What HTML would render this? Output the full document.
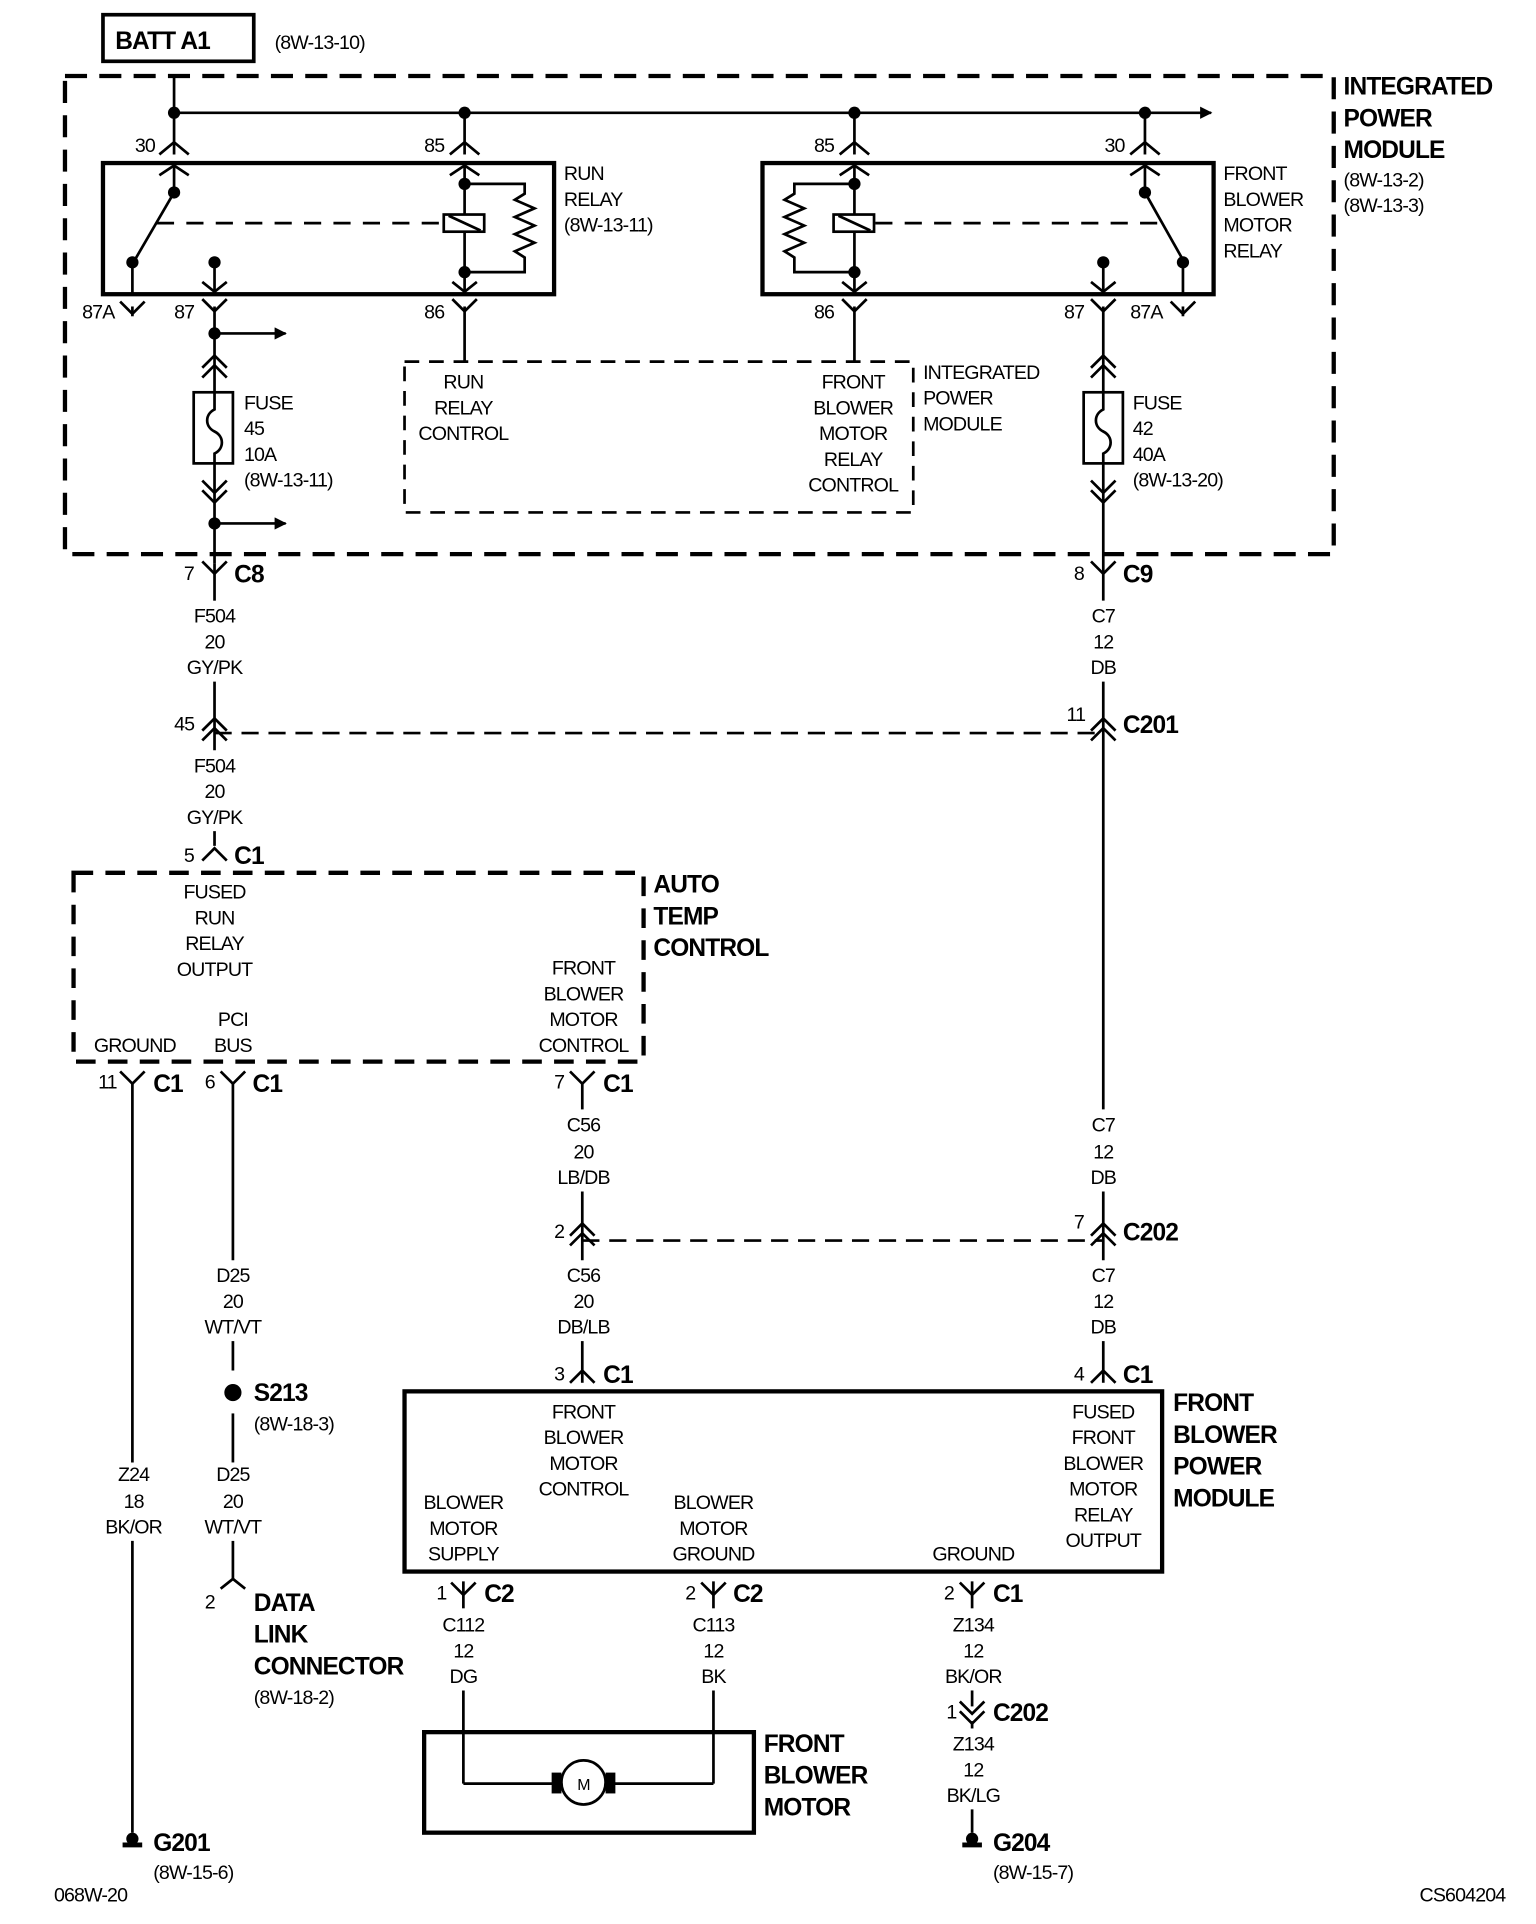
<!DOCTYPE html>
<html><head><meta charset="utf-8"><style>
html,body{margin:0;padding:0;background:#fff}
svg{display:block}
text{font-family:"Liberation Sans",Arial,sans-serif;fill:#000;font-size:16px;letter-spacing:-0.7px}
.b{font-weight:bold;font-size:20px}
.m{text-anchor:middle}
</style></head><body>
<svg width="1536" height="1924" viewBox="0 0 1253 1569.5" xmlns="http://www.w3.org/2000/svg">
<defs>
<marker id="ar" markerWidth="10" markerHeight="10" refX="9" refY="5" orient="auto" markerUnits="userSpaceOnUse"><path d="M0,0 L10,5 L0,10z" fill="#000"/></marker>
</defs>
<g stroke="#000" fill="none" stroke-width="2.2">
<rect x="84" y="12" width="123" height="38" stroke-width="3"/>
<rect x="53" y="62" width="1035" height="390" stroke-width="3.5" stroke-dasharray="18,10"/>
<line x1="142" y1="62" x2="142" y2="126"/>
<line x1="142" y1="92" x2="988" y2="92" marker-end="url(#ar)"/>
<line x1="379" y1="92" x2="379" y2="126"/>
<line x1="697" y1="92" x2="697" y2="126"/>
<line x1="934" y1="92" x2="934" y2="126"/>
<rect x="84" y="133" width="368" height="107" stroke-width="3.5"/>
<rect x="622" y="133" width="368" height="107" stroke-width="3.5"/>
<line x1="142" y1="133" x2="142" y2="157"/>
<line x1="142" y1="157" x2="110" y2="212"/>
<line x1="108" y1="214" x2="108" y2="240"/>
<line x1="175" y1="214" x2="175" y2="240"/>
<line x1="128" y1="182" x2="362" y2="182" stroke-dasharray="14,10"/>
<rect x="362" y="175" width="33" height="14"/>
<line x1="366" y1="176" x2="392" y2="188"/>
<line x1="379" y1="133" x2="379" y2="175"/>
<line x1="379" y1="189" x2="379" y2="240"/>
<polyline points="379,150 428,150 428,158 420,163 436,170 420,177 436,184 420,191 436,198 420,205 428,210 428,222 379,222"/>
<line x1="934" y1="133" x2="934" y2="157"/>
<line x1="934" y1="157" x2="965" y2="212"/>
<line x1="965" y1="214" x2="965" y2="240"/>
<line x1="900" y1="214" x2="900" y2="240"/>
<line x1="714" y1="182" x2="948" y2="182" stroke-dasharray="14,10"/>
<rect x="680" y="175" width="33" height="14"/>
<line x1="684" y1="176" x2="710" y2="188"/>
<line x1="697" y1="133" x2="697" y2="175"/>
<line x1="697" y1="189" x2="697" y2="240"/>
<polyline points="697,150 648,150 648,158 640,163 656,170 640,177 656,184 640,191 656,198 640,205 648,210 648,222 697,222"/>
<line x1="175" y1="250" x2="175" y2="460"/>
<line x1="175" y1="272" x2="233" y2="272" marker-end="url(#ar)"/>
<line x1="175" y1="427" x2="233" y2="427" marker-end="url(#ar)"/>
<rect x="158" y="320" width="32" height="58" fill="#fff"/>
<path d="M175,320 v14 c-8,4 -8,14 0,18 c8,4 8,14 0,18 v8"/>
<line x1="108" y1="250" x2="108" y2="258"/>
<line x1="379" y1="250" x2="379" y2="295"/>
<line x1="697" y1="250" x2="697" y2="295"/>
<line x1="900" y1="250" x2="900" y2="490"/>
<rect x="884" y="320" width="32" height="58" fill="#fff"/>
<path d="M900,320 v14 c-8,4 -8,14 0,18 c8,4 8,14 0,18 v8"/>
<line x1="965" y1="250" x2="965" y2="258"/>
<rect x="330" y="295" width="415" height="123" stroke-dasharray="12,8"/>
<line x1="175" y1="460" x2="175" y2="490"/>
<line x1="175" y1="556" x2="175" y2="612"/>
<line x1="175" y1="678" x2="175" y2="690"/>
<line x1="175" y1="598" x2="900" y2="598" stroke-dasharray="14,8"/>
<line x1="900" y1="556" x2="900" y2="905"/>
<line x1="900" y1="972" x2="900" y2="1028"/>
<line x1="900" y1="1094" x2="900" y2="1128"/>
<rect x="60" y="712" width="465" height="154" stroke-width="3.5" stroke-dasharray="16,10"/>
<line x1="108" y1="883" x2="108" y2="1193"/>
<line x1="108" y1="1257" x2="108" y2="1495"/>
<line x1="190" y1="883" x2="190" y2="1028"/>
<line x1="190" y1="1094" x2="190" y2="1118"/>
<line x1="190" y1="1153" x2="190" y2="1193"/>
<line x1="190" y1="1257" x2="190" y2="1288"/>
<line x1="475" y1="883" x2="475" y2="905"/>
<line x1="475" y1="972" x2="475" y2="1028"/>
<line x1="475" y1="1094" x2="475" y2="1128"/>
<line x1="475" y1="1012" x2="900" y2="1012" stroke-dasharray="14,8"/>
<rect x="330" y="1135" width="618" height="147" stroke-width="3.5"/>
<line x1="378" y1="1290" x2="378" y2="1312"/>
<line x1="378" y1="1379" x2="378" y2="1455"/>
<line x1="582" y1="1290" x2="582" y2="1312"/>
<line x1="582" y1="1379" x2="582" y2="1455"/>
<line x1="378" y1="1455" x2="452" y2="1455"/>
<line x1="500" y1="1455" x2="582" y2="1455"/>
<rect x="346" y="1413" width="269" height="82" stroke-width="3.5"/>
<circle cx="476" cy="1454" r="18" fill="#fff"/>
<line x1="793" y1="1290" x2="793" y2="1312"/>
<line x1="793" y1="1379" x2="793" y2="1392"/>
<line x1="793" y1="1404" x2="793" y2="1410"/>
<line x1="793" y1="1476" x2="793" y2="1495"/>
</g>
<rect x="450" y="1446" width="8" height="17" fill="#000"/>
<rect x="494" y="1446" width="8" height="17" fill="#000"/>
<g stroke="#000" fill="none" stroke-width="2.2">
<path d="M130,126 L142,116 L154,126 M130,143 L142,135 L154,143"/>
<path d="M367,126 L379,116 L391,126 M367,143 L379,135 L391,143"/>
<path d="M685,126 L697,116 L709,126 M685,143 L697,135 L709,143"/>
<path d="M922,126 L934,116 L946,126 M922,143 L934,135 L946,143"/>
<path d="M98,246 L108,256 L118,246"/>
<path d="M165,244 L175,254 L185,244 M165,230 L175,238 L185,230"/>
<path d="M369,244 L379,254 L389,244 M369,230 L379,238 L389,230"/>
<path d="M687,244 L697,254 L707,244 M687,230 L697,238 L707,230"/>
<path d="M890,244 L900,254 L910,244 M890,230 L900,238 L910,230"/>
<path d="M955,246 L965,256 L975,246"/>
<path d="M165,300 L175,290 L185,300 M165,308 L175,298 L185,308"/>
<path d="M165,392 L175,402 L185,392 M165,400 L175,410 L185,400"/>
<path d="M890,300 L900,290 L910,300 M890,308 L900,298 L910,308"/>
<path d="M890,392 L900,402 L910,392 M890,400 L900,410 L910,400"/>
<path d="M165,458 L175,468 L185,458"/>
<path d="M890,458 L900,468 L910,458"/>
<path d="M165,596 L175,586 L185,596 M165,604 L175,594 L185,604"/>
<path d="M890,596 L900,586 L910,596 M890,604 L900,594 L910,604"/>
<path d="M165,702 L175,692 L185,702"/>
<path d="M98,874 L108,884 L118,874"/>
<path d="M180,874 L190,884 L200,874"/>
<path d="M465,874 L475,884 L485,874"/>
<path d="M465,1008 L475,998 L485,1008 M465,1016 L475,1006 L485,1016"/>
<path d="M890,1008 L900,998 L910,1008 M890,1016 L900,1006 L910,1016"/>
<path d="M465,1128 L475,1118 L485,1128"/>
<path d="M890,1128 L900,1118 L910,1128"/>
<path d="M368,1291 L378,1301 L388,1291"/>
<path d="M572,1291 L582,1301 L592,1291"/>
<path d="M783,1291 L793,1301 L803,1291"/>
<path d="M783,1388 L793,1398 L803,1388 M783,1396 L793,1406 L803,1396"/>
<path d="M180,1296 L190,1288 L200,1296"/>
</g>
<g fill="#000">
<circle cx="142" cy="92" r="5"/><circle cx="379" cy="92" r="5"/><circle cx="697" cy="92" r="5"/><circle cx="934" cy="92" r="5"/>
<circle cx="142" cy="157" r="5"/><circle cx="108" cy="214" r="5"/><circle cx="175" cy="214" r="5"/>
<circle cx="379" cy="150" r="5"/><circle cx="379" cy="222" r="5"/>
<circle cx="934" cy="157" r="5"/><circle cx="965" cy="214" r="5"/><circle cx="900" cy="214" r="5"/>
<circle cx="697" cy="150" r="5"/><circle cx="697" cy="222" r="5"/>
<circle cx="175" cy="272" r="5"/><circle cx="175" cy="427" r="5"/>
<circle cx="190" cy="1136" r="7"/>
<path d="M100,1503 h16 v4 h-16z"/><circle cx="108" cy="1500" r="5"/>
<path d="M785,1503 h16 v4 h-16z"/><circle cx="793" cy="1500" r="5"/>
</g>
<text x="94" y="40" class="b">BATT A1</text>
<text x="224" y="40">(8W-13-10)</text>
<text x="1096" y="77" class="b">INTEGRATED</text>
<text x="1096" y="103" class="b">POWER</text>
<text x="1096" y="129" class="b">MODULE</text>
<text x="1096" y="152">(8W-13-2)</text>
<text x="1096" y="173">(8W-13-3)</text>
<text x="110" y="124">30</text><text x="346" y="124">85</text><text x="664" y="124">85</text><text x="901" y="124">30</text>
<text x="460" y="147">RUN</text><text x="460" y="168">RELAY</text><text x="460" y="189">(8W-13-11)</text>
<text x="998" y="147">FRONT</text><text x="998" y="168">BLOWER</text><text x="998" y="189">MOTOR</text><text x="998" y="210">RELAY</text>
<text x="67" y="260">87A</text><text x="142" y="260">87</text><text x="346" y="260">86</text>
<text x="664" y="260">86</text><text x="868" y="260">87</text><text x="922" y="260">87A</text>
<text x="199" y="334">FUSE</text><text x="199" y="355">45</text><text x="199" y="376">10A</text><text x="199" y="397">(8W-13-11)</text>
<text x="924" y="334">FUSE</text><text x="924" y="355">42</text><text x="924" y="376">40A</text><text x="924" y="397">(8W-13-20)</text>
<text x="378" y="317" class="m">RUN</text><text x="378" y="338" class="m">RELAY</text><text x="378" y="359" class="m">CONTROL</text>
<text x="696" y="317" class="m">FRONT</text><text x="696" y="338" class="m">BLOWER</text><text x="696" y="359" class="m">MOTOR</text><text x="696" y="380" class="m">RELAY</text><text x="696" y="401" class="m">CONTROL</text>
<text x="753" y="309">INTEGRATED</text><text x="753" y="330">POWER</text><text x="753" y="351">MODULE</text>
<text x="150" y="473">7</text><text x="191" y="475" class="b">C8</text>
<text x="876" y="473">8</text><text x="916" y="475" class="b">C9</text>
<text x="175" y="508" class="m">F504</text><text x="175" y="529" class="m">20</text><text x="175" y="550" class="m">GY/PK</text>
<text x="900" y="508" class="m">C7</text><text x="900" y="529" class="m">12</text><text x="900" y="550" class="m">DB</text>
<text x="142" y="596">45</text>
<text x="870" y="588">11</text><text x="916" y="598" class="b">C201</text>
<text x="175" y="630" class="m">F504</text><text x="175" y="651" class="m">20</text><text x="175" y="672" class="m">GY/PK</text>
<text x="150" y="703">5</text><text x="191" y="705" class="b">C1</text>
<text x="533" y="728" class="b">AUTO</text><text x="533" y="754" class="b">TEMP</text><text x="533" y="780" class="b">CONTROL</text>
<text x="175" y="733" class="m">FUSED</text><text x="175" y="754" class="m">RUN</text><text x="175" y="775" class="m">RELAY</text><text x="175" y="796" class="m">OUTPUT</text>
<text x="476" y="795" class="m">FRONT</text><text x="476" y="816" class="m">BLOWER</text><text x="476" y="837" class="m">MOTOR</text><text x="476" y="858" class="m">CONTROL</text>
<text x="190" y="837" class="m">PCI</text><text x="190" y="858" class="m">BUS</text>
<text x="110" y="858" class="m">GROUND</text>
<text x="80" y="888">11</text><text x="125" y="891" class="b">C1</text>
<text x="167" y="888">6</text><text x="206" y="891" class="b">C1</text>
<text x="452" y="888">7</text><text x="492" y="891" class="b">C1</text>
<text x="476" y="923" class="m">C56</text><text x="476" y="945" class="m">20</text><text x="476" y="966" class="m">LB/DB</text>
<text x="900" y="923" class="m">C7</text><text x="900" y="945" class="m">12</text><text x="900" y="966" class="m">DB</text>
<text x="452" y="1010">2</text>
<text x="876" y="1002">7</text><text x="916" y="1012" class="b">C202</text>
<text x="476" y="1046" class="m">C56</text><text x="476" y="1067" class="m">20</text><text x="476" y="1088" class="m">DB/LB</text>
<text x="900" y="1046" class="m">C7</text><text x="900" y="1067" class="m">12</text><text x="900" y="1088" class="m">DB</text>
<text x="190" y="1046" class="m">D25</text><text x="190" y="1067" class="m">20</text><text x="190" y="1088" class="m">WT/VT</text>
<text x="452" y="1126">3</text><text x="492" y="1128" class="b">C1</text>
<text x="876" y="1126">4</text><text x="916" y="1128" class="b">C1</text>
<text x="207" y="1143" class="b">S213</text><text x="207" y="1167">(8W-18-3)</text>
<text x="190" y="1208" class="m">D25</text><text x="190" y="1230" class="m">20</text><text x="190" y="1251" class="m">WT/VT</text>
<text x="109" y="1208" class="m">Z24</text><text x="109" y="1230" class="m">18</text><text x="109" y="1251" class="m">BK/OR</text>
<text x="476" y="1157" class="m">FRONT</text><text x="476" y="1178" class="m">BLOWER</text><text x="476" y="1199" class="m">MOTOR</text><text x="476" y="1220" class="m">CONTROL</text>
<text x="900" y="1157" class="m">FUSED</text><text x="900" y="1178" class="m">FRONT</text><text x="900" y="1199" class="m">BLOWER</text><text x="900" y="1220" class="m">MOTOR</text><text x="900" y="1241" class="m">RELAY</text><text x="900" y="1262" class="m">OUTPUT</text>
<text x="378" y="1231" class="m">BLOWER</text><text x="378" y="1252" class="m">MOTOR</text><text x="378" y="1273" class="m">SUPPLY</text>
<text x="582" y="1231" class="m">BLOWER</text><text x="582" y="1252" class="m">MOTOR</text><text x="582" y="1273" class="m">GROUND</text>
<text x="794" y="1273" class="m">GROUND</text>
<text x="957" y="1151" class="b">FRONT</text><text x="957" y="1177" class="b">BLOWER</text><text x="957" y="1203" class="b">POWER</text><text x="957" y="1229" class="b">MODULE</text>
<text x="356" y="1305">1</text><text x="395" y="1307" class="b">C2</text>
<text x="559" y="1305">2</text><text x="598" y="1307" class="b">C2</text>
<text x="770" y="1305">2</text><text x="810" y="1307" class="b">C1</text>
<text x="167" y="1312">2</text>
<text x="207" y="1314" class="b">DATA</text><text x="207" y="1340" class="b">LINK</text><text x="207" y="1366" class="b">CONNECTOR</text><text x="207" y="1390">(8W-18-2)</text>
<text x="378" y="1331" class="m">C112</text><text x="378" y="1352" class="m">12</text><text x="378" y="1373" class="m">DG</text>
<text x="582" y="1331" class="m">C113</text><text x="582" y="1352" class="m">12</text><text x="582" y="1373" class="m">BK</text>
<text x="794" y="1331" class="m">Z134</text><text x="794" y="1352" class="m">12</text><text x="794" y="1373" class="m">BK/OR</text>
<text x="772" y="1402">1</text><text x="810" y="1404" class="b">C202</text>
<text x="794" y="1428" class="m">Z134</text><text x="794" y="1449" class="m">12</text><text x="794" y="1470" class="m">BK/LG</text>
<text x="623" y="1429" class="b">FRONT</text><text x="623" y="1455" class="b">BLOWER</text><text x="623" y="1481" class="b">MOTOR</text>
<text x="476" y="1460" class="m" style="font-size:13px">M</text>
<text x="125" y="1510" class="b">G201</text><text x="125" y="1533">(8W-15-6)</text>
<text x="810" y="1510" class="b">G204</text><text x="810" y="1533">(8W-15-7)</text>
<text x="44" y="1551">068W-20</text>
<text x="1158" y="1551">CS604204</text>
</svg>
</body></html>
